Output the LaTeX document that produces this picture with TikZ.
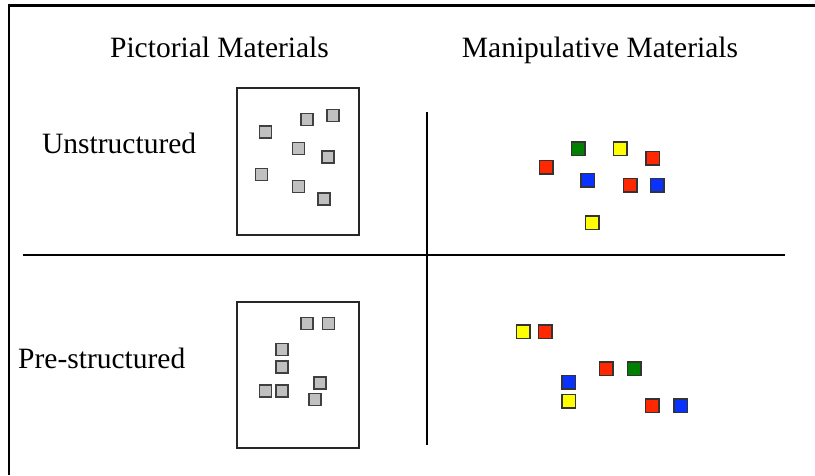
\documentclass[tikz,border=0pt]{standalone}
\usepackage{fontspec}
\setmainfont{Liberation Serif}
\definecolor{sqgray}{RGB}{192,192,192}
\definecolor{sqred}{RGB}{255,40,0}
\definecolor{sqgreen}{RGB}{0,128,0}
\definecolor{sqyellow}{RGB}{255,255,0}
\definecolor{sqblue}{RGB}{10,50,255}
\tikzset{
  lbl/.style={font=\fontsize{29.5}{32}\selectfont, anchor=base, inner sep=0pt},
  panel/.style={draw=black!85, line width=1.3pt},
  gsq/.style={draw=black!75, fill=sqgray, line width=1.5pt, minimum size=12pt, inner sep=0pt},
  csq/.style={draw=black!80, line width=1.5pt, minimum size=13.5pt, inner sep=0pt},
  divider/.style={draw=black, line width=1.3pt}
}
\begin{document}
\begin{tikzpicture}[x=1pt,y=-1pt]
\useasboundingbox (0,0) rectangle (815,475);
% frame
\draw[line width=2.2pt] (9,475) -- (9,5.5) -- (815,5.5);
% headings
\node[lbl] (hpic) at (219.5,57) {Pictorial Materials};
\node[lbl] (hman) at (600,57) {Manipulative Materials};
\node[lbl, anchor=base west] (unst) at (42,153) {Unstructured};
\node[lbl, anchor=base west] (prest) at (18,368) {Pre-structured};
% dividers
\coordinate (hl) at (23,255);
\coordinate (hr) at (785,255);
\coordinate (vt) at (427,112);
\coordinate (vb) at (427,445);
\draw[divider] (hl) -- (hr);
\draw[divider] (vt) -- (vb);
% panels
\node[panel, minimum width=122pt, minimum height=147pt, inner sep=0pt] (p1) at (298,161.5) {};
\node[panel, minimum width=122pt, minimum height=146pt, inner sep=0pt] (p2) at (298,375) {};
% unstructured grey squares
\node[gsq] (g1) at (265.5,132) {};
\node[gsq] (g2) at (307,119.5) {};
\node[gsq] (g3) at (333,115.5) {};
\node[gsq] (g4) at (298.5,148.5) {};
\node[gsq] (g5) at (328,157) {};
\node[gsq] (g6) at (261.5,174.5) {};
\node[gsq] (g7) at (298.5,186.5) {};
\node[gsq] (g8) at (324,199) {};
% pre-structured grey squares
\node[gsq] (h1) at (307,323.5) {};
\node[gsq] (h2) at (328.5,323.5) {};
\node[gsq] (h3) at (282,349.5) {};
\node[gsq] (h4) at (282,367) {};
\node[gsq] (h5) at (265.5,391) {};
\node[gsq] (h6) at (282,391) {};
\node[gsq] (h7) at (320,383) {};
\node[gsq] (h8) at (315,399.5) {};
% unstructured coloured squares
\node[csq, fill=sqred] (c1) at (546,167) {};
\node[csq, fill=sqgreen] (c2) at (578,148.5) {};
\node[csq, fill=sqyellow] (c3) at (620,148.5) {};
\node[csq, fill=sqred] (c4) at (652.5,158) {};
\node[csq, fill=sqblue] (c5) at (587.5,180) {};
\node[csq, fill=sqred] (c6) at (630,185) {};
\node[csq, fill=sqblue] (c7) at (657,185) {};
\node[csq, fill=sqyellow] (c8) at (592,222.5) {};
% pre-structured coloured squares
\node[csq, fill=sqyellow] (d1) at (523,331.5) {};
\node[csq, fill=sqred] (d2) at (545,331.5) {};
\node[csq, fill=sqred] (d3) at (606,368.5) {};
\node[csq, fill=sqgreen] (d4) at (634,368.5) {};
\node[csq, fill=sqblue] (d5) at (568.5,382) {};
\node[csq, fill=sqyellow] (d6) at (568.5,401) {};
\node[csq, fill=sqred] (d7) at (652,405.5) {};
\node[csq, fill=sqblue] (d8) at (680.5,405.5) {};
\end{tikzpicture}
\end{document}
